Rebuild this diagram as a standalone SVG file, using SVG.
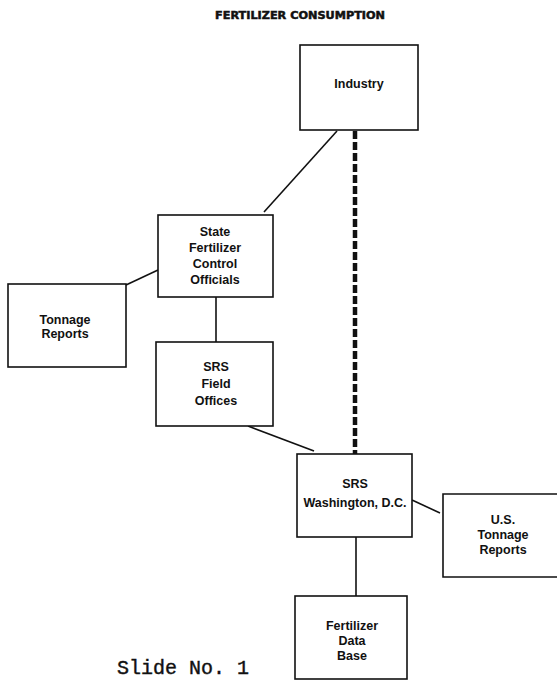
<svg xmlns="http://www.w3.org/2000/svg" width="557" height="681" viewBox="0 0 557 681">
  <style>
    .box { fill: #ffffff; stroke: #111111; stroke-width: 1.6; }
    .lbl { font-family: "Liberation Sans", Arial, sans-serif; font-weight: bold; font-size: 12.5px; fill: #111111; text-anchor: middle; }
    .link { stroke: #111111; stroke-width: 1.6; fill: none; }
    .dash { stroke: #111111; stroke-width: 4.5; stroke-dasharray: 8 3; fill: none; }
    .title { font-family: "DejaVu Sans", "Liberation Sans", sans-serif; font-weight: bold; font-size: 10px; fill: #111111; stroke: #111111; stroke-width: 0.5; }
    .slide { font-family: "Liberation Mono", "DejaVu Sans Mono", monospace; font-size: 20px; fill: #111111; stroke: #111111; stroke-width: 0.4; }
  </style>
  <rect width="557" height="681" fill="#ffffff"/>

  <text class="title" x="215" y="19" textLength="170" lengthAdjust="spacingAndGlyphs">FERTILIZER CONSUMPTION</text>

  <g id="connectors">
    <line class="dash" x1="355" y1="131" x2="355" y2="454"/>
    <line class="link" x1="337" y1="131" x2="264" y2="212"/>
    <line class="link" x1="126" y1="285" x2="158" y2="270"/>
    <line class="link" x1="216" y1="297" x2="216" y2="342"/>
    <line class="link" x1="248" y1="426" x2="314" y2="451"/>
    <line class="link" x1="412" y1="500" x2="440" y2="513"/>
    <line class="link" x1="356" y1="537" x2="356" y2="596"/>
  </g>

  <g id="industry">
    <rect class="box" x="300" y="45" width="118" height="85"/>
    <text class="lbl" x="359" y="88">Industry</text>
  </g>

  <g id="state-officials">
    <rect class="box" x="158" y="215" width="115" height="82"/>
    <text class="lbl" x="215" y="236">State</text>
    <text class="lbl" x="215" y="252">Fertilizer</text>
    <text class="lbl" x="215" y="268">Control</text>
    <text class="lbl" x="215" y="284">Officials</text>
  </g>

  <g id="tonnage-reports">
    <rect class="box" x="8" y="284" width="118" height="83"/>
    <text class="lbl" x="65" y="324">Tonnage</text>
    <text class="lbl" x="65" y="338">Reports</text>
  </g>

  <g id="srs-field-offices">
    <rect class="box" x="156" y="342" width="117" height="84"/>
    <text class="lbl" x="216" y="371">SRS</text>
    <text class="lbl" x="216" y="388">Field</text>
    <text class="lbl" x="216" y="405">Offices</text>
  </g>

  <g id="srs-washington">
    <rect class="box" x="297" y="454" width="115" height="83"/>
    <text class="lbl" x="355" y="488">SRS</text>
    <text class="lbl" x="355" y="507">Washington, D.C.</text>
  </g>

  <g id="us-tonnage-reports">
    <path class="box" d="M 560 494 L 443 494 L 443 577 L 560 577"/>
    <text class="lbl" x="503" y="524">U.S.</text>
    <text class="lbl" x="503" y="539">Tonnage</text>
    <text class="lbl" x="503" y="554">Reports</text>
  </g>

  <g id="fertilizer-data-base">
    <rect class="box" x="295" y="596" width="112" height="83"/>
    <text class="lbl" x="352" y="630">Fertilizer</text>
    <text class="lbl" x="352" y="645">Data</text>
    <text class="lbl" x="352" y="660">Base</text>
  </g>

  <text class="slide" x="117" y="674">Slide No. 1</text>
</svg>
